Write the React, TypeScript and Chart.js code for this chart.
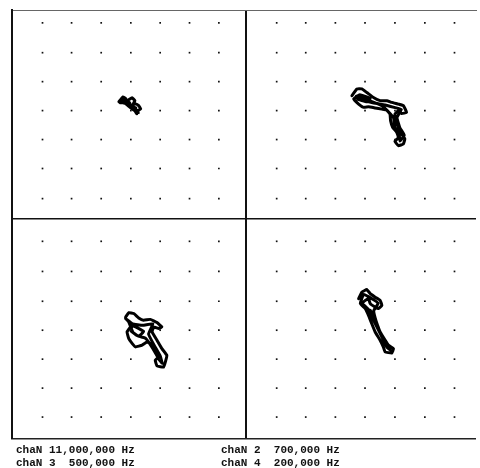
import React, { useEffect, useRef } from "react";
import { Chart, registerables } from "chart.js";

Chart.register(...registerables);

// Axis extents in screen divisions x10 (centre of display = 0,0)
const X_MIN = -80.5;
const X_MAX = 79.2;
const Y_MIN = -75.4;
const Y_MAX = 71.3;

// Graticule dot positions
const dotColumns = [-70, -60, -49.8, -39.6, -29.5, -19.4, -9.3, 10.6, 20.6, 30.8, 41, 51.3, 61.6, 71.8];
const dotRows = [66.9, 56.7, 46.8, 36.9, 27.0, 17.1, 6.8, -7.8, -18.1, -28.3, -38.2, -48.1, -58.0, -67.9];

// Channel 1 (upper left)
const ch1X = [-43.7, -42.3, -41.3, -41.6, -40.3, -39.2, -38.2, -38.9, -37.9, -36.9, -36.2, -37.2, -37.5, -38.2, -37.9, -38.9, -39.9, -41.0, -42.3, -43.3, -42.0, -40.0, -39.5, -38.0, -37.0, -38.5, -40.5, -42.5];
const ch1Y = [39.9, 41.6, 40.9, 39.9, 40.6, 41.3, 40.3, 38.9, 39.2, 38.6, 37.5, 36.9, 35.8, 36.9, 37.9, 38.2, 38.9, 39.2, 39.6, 39.6, 40.6, 39.6, 38.0, 37.5, 36.2, 37.0, 38.5, 40.3];

// Channel 2 (upper right)
const ch2X = [36.5, 38.2, 39.9, 41.6, 43.9, 46.2, 48.5, 50.2, 52.5, 54.2, 55.3, 53.6, 52.5, 51.3, 51.6, 52.5, 53.6, 54.7, 54.2, 52.5, 51.3, 52.5, 51.9, 50.5, 49.8, 49.6, 48.5, 46.8, 44.5, 42.2, 40.5, 38.8, 37.1, 39.2, 42.8, 41.6, 38.5, 44, 48, 51, 53.5, 52, 53, 54.5, 53, 52.8, 51.2, 50.8, 47, 42, 38];
const ch2Y = [42.0, 44.3, 44.3, 43.1, 41.4, 40.3, 40.3, 39.7, 39.1, 38.6, 36.3, 35.9, 36.9, 35.7, 33.4, 31.2, 28.9, 27.2, 25.5, 24.9, 26.4, 27.7, 29.5, 31.2, 33.4, 35.7, 37.1, 37.4, 37.8, 38.2, 38.0, 39.1, 40.9, 42.3, 41.0, 39.9, 40.8, 39.5, 38.8, 38.0, 37.3, 34.5, 31, 28.5, 26.5, 28.5, 31.5, 34.5, 38.5, 40.5, 41.8];

// Channel 3 (lower left)
const ch3X = [-41.4, -40.3, -38.6, -36.9, -35.2, -32.9, -30.6, -28.9, -30.0, -31.7, -32.3, -30.6, -28.9, -27.2, -27.7, -28.3, -30.6, -31.2, -30.0, -31.2, -32.9, -34.0, -35.7, -38.0, -39.1, -40.3, -40.9, -39.7, -38.6, -35.2, -36.9, -38.9, -40.3, -41.4, -39, -35.5, -32, -33.5, -31.5, -29.5, -28.8, -30, -32, -34.5, -37.5, -39.5];
const ch3Y = [-33.7, -32.2, -32.5, -34.0, -34.8, -34.5, -35.6, -37.1, -37.6, -37.1, -38.8, -41.6, -44.5, -46.8, -49.0, -50.8, -50.4, -48.5, -47.3, -45.1, -42.8, -42.2, -43.3, -43.9, -42.8, -41.1, -38.8, -37.1, -36.8, -38.6, -40.3, -38.9, -35.4, -34.2, -36, -36.5, -36, -39.5, -43.5, -47, -49.5, -48, -44.5, -41, -40, -38.5];

// Channel 4 (lower right)
const ch4X = [38.8, 39.9, 41.6, 42.8, 44.5, 46.2, 46.8, 45.6, 44.5, 42.8, 42.2, 41.1, 39.9, 41.1, 42.8, 43.9, 45.1, 46.2, 47.9, 49.0, 50.8, 50.2, 47.9, 47.3, 46.2, 44.5, 43.3, 42.2, 41.1, 39.4, 40.5, 43.5, 45.5, 44, 44.8, 46.5, 48.5, 49.8, 48.5, 46.8, 44.3, 42.5, 40.5];
const ch4Y = [-27.4, -25.2, -24.3, -25.7, -26.9, -28.0, -29.7, -30.8, -30.3, -29.1, -27.4, -28.0, -29.1, -30.8, -31.4, -33.7, -35.9, -38.8, -41.6, -43.3, -44.5, -46.0, -45.6, -43.9, -41.6, -38.8, -35.9, -33.1, -30.8, -29.1, -26, -27.5, -29, -31.5, -35, -39.5, -43, -45, -44, -40.5, -35.5, -31.5, -29.5];

const leftLabels = ["chaN 11,000,000 Hz", "chaN 3  500,000 Hz"];
const rightLabels = ["chaN 2  700,000 Hz", "chaN 4  200,000 Hz"];

const toPoints = (xs: number[], ys: number[]) => xs.map((x, i) => ({ x, y: ys[i] }));

export default function App() {
  const canvasRef = useRef<HTMLCanvasElement | null>(null);

  useEffect(() => {
    if (!canvasRef.current) return;
    const dots: { x: number; y: number }[] = [];
    dotRows.forEach((y) => dotColumns.forEach((x) => dots.push({ x, y })));

    const traceStyle = {
      type: "line" as const,
      borderColor: "#000",
      borderWidth: 3,
      pointRadius: 0,
      tension: 0.1,
      borderJoinStyle: "round" as const,
      borderCapStyle: "round" as const,
      fill: false,
    };

    const chart = new Chart(canvasRef.current, {
      type: "scatter",
      data: {
        datasets: [
          {
            label: "graticule",
            data: dots,
            pointRadius: 1.2,
            pointStyle: "rect",
            backgroundColor: "#111",
            borderColor: "#111",
            borderWidth: 0,
          },
          { ...traceStyle, label: "chaN 1", data: toPoints(ch1X, ch1Y) },
          { ...traceStyle, label: "chaN 2", data: toPoints(ch2X, ch2Y) },
          { ...traceStyle, label: "chaN 3", data: toPoints(ch3X, ch3Y) },
          { ...traceStyle, label: "chaN 4", data: toPoints(ch4X, ch4Y) },
        ] as any,
      },
      options: {
        animation: false,
        responsive: false,
        layout: { padding: { left: 12, top: 2, right: -4, bottom: 29 } },
        plugins: { legend: { display: false }, tooltip: { enabled: false } },
        scales: {
          x: {
            type: "linear",
            position: "bottom",
            min: X_MIN,
            max: X_MAX,
            ticks: { display: false, stepSize: 10 },
            grid: {
              display: true,
              drawTicks: false,
              color: (c: any) => (c.tick && c.tick.value === 0 ? "#111" : "rgba(0,0,0,0)"),
              lineWidth: (c: any) => (c.tick && c.tick.value === 0 ? 2 : 0),
            },
            border: { display: true, color: "#222", width: 1.5 },
          },
          xTop: {
            type: "linear",
            position: "top",
            min: X_MIN,
            max: X_MAX,
            ticks: { display: false },
            grid: { display: false },
            border: { display: true, color: "#666", width: 1, dash: [7, 2, 2, 2] },
          },
          y: {
            type: "linear",
            position: "left",
            min: Y_MIN,
            max: Y_MAX,
            ticks: { display: false, stepSize: 10 },
            grid: {
              display: true,
              drawTicks: false,
              color: (c: any) => (c.tick && c.tick.value === 0 ? "#111" : "rgba(0,0,0,0)"),
              lineWidth: (c: any) => (c.tick && c.tick.value === 0 ? 1.5 : 0),
            },
            border: { display: true, color: "#111", width: 2 },
          },
        },
      } as any,
    });
    return () => chart.destroy();
  }, []);

  const textStyle: React.CSSProperties = {
    position: "absolute",
    fontFamily: '"Liberation Mono", "DejaVu Sans Mono", monospace',
    fontWeight: "bold",
    fontSize: 11,
    lineHeight: "13px",
    color: "#111",
    whiteSpace: "pre",
  };

  return (
    <div style={{ position: "absolute", left: 0, top: 0, width: 480, height: 468, background: "#fff", overflow: "hidden" }}>
      <canvas ref={canvasRef} width={480} height={468} style={{ display: "block" }} />
      <div style={{ ...textStyle, left: 16, top: 444 }}>
        {leftLabels.map((t) => (
          <div key={t}>{t}</div>
        ))}
      </div>
      <div style={{ ...textStyle, left: 221, top: 444 }}>
        {rightLabels.map((t) => (
          <div key={t}>{t}</div>
        ))}
      </div>
    </div>
  );
}
